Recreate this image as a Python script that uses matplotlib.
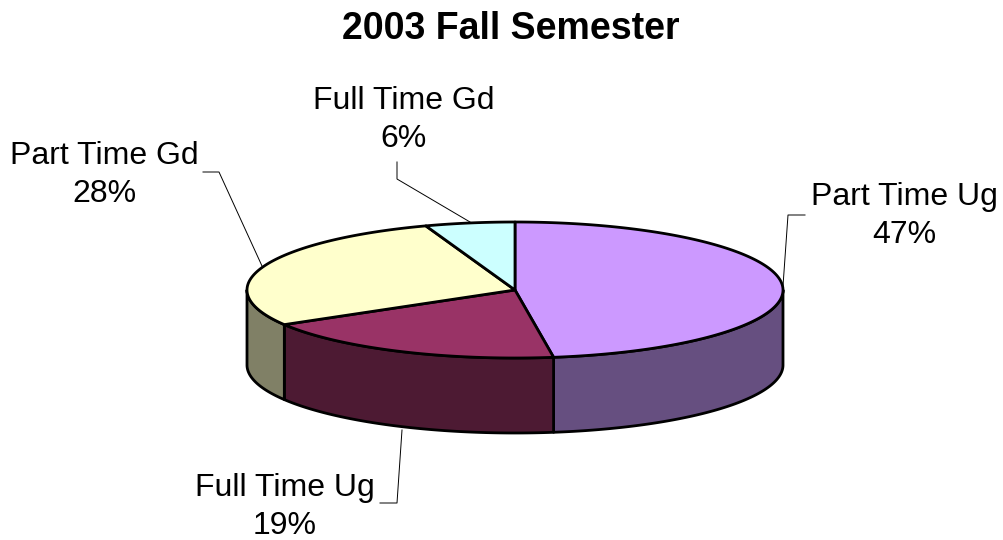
import numpy as np
import matplotlib
matplotlib.use("Agg")
import matplotlib.pyplot as plt
from matplotlib.patches import Polygon

title = "2003 Fall Semester"
categories = ["Part Time Ug", "Full Time Ug", "Part Time Gd", "Full Time Gd"]
values = [47.7, 18.8, 28.1, 5.4]
pct_labels = ["47%", "19%", "28%", "6%"]
top_colors = ["#CC99FF", "#993366", "#FFFFCC", "#CCFFFF"]
side_colors = ["#664F80", "#4D1A33", "#808066", "#668080"]

label_pos = [(904, 216), (285, 507), (104, 175), (404, 120)]
leaders = [
    [(805, 215), (788, 215), (783, 286)],
    [(380, 503), (397, 503), (402, 430)],
    [(203, 172), (219, 172), (262, 266)],
    [(397, 162), (397, 179), (470, 222)],
]

CX, CY, RX, RY, DEPTH = 515, 290, 268, 68, 75
LW = 2.0

plt.rcParams["font.family"] = ["Liberation Sans", "DejaVu Sans"]
fig = plt.figure(figsize=(10.04, 5.40), dpi=100)
ax = fig.add_axes([0, 0, 1, 1])
ax.set_xlim(0, 1004)
ax.set_ylim(540, 0)
ax.axis("off")


def arc(a0, a1, dy=0.0):
    """Points on the rim; angles are clockwise from the top, in degrees."""
    t = np.radians(np.linspace(a0, a1, max(int(abs(a1 - a0) * 2), 2)))
    return np.column_stack([CX + RX * np.sin(t), CY + dy - RY * np.cos(t)])


fracs = np.array(values) / sum(values) * 360
ends = np.cumsum(fracs)
starts = ends - fracs

# Side walls: only the part of each slice on the front half (90..270 degrees)
for a0, a1, c in zip(starts, ends, side_colors):
    lo, hi = max(a0, 90), min(a1, 270)
    if hi <= lo:
        continue
    front = arc(lo, hi)
    back = arc(hi, lo, DEPTH)
    ax.add_patch(Polygon(np.vstack([front, back]), closed=True, facecolor=c,
                         edgecolor="black", lw=LW, joinstyle="round", zorder=2))

# Top faces
for a0, a1, c in zip(starts, ends, top_colors):
    pts = np.vstack([[CX, CY], arc(a0, a1)])
    ax.add_patch(Polygon(pts, closed=True, facecolor=c, edgecolor="black",
                         lw=LW, joinstyle="round", zorder=3))

# Leader lines
for pts in leaders:
    xs, ys = zip(*pts)
    ax.plot(xs, ys, color="black", lw=0.7, zorder=1)

# Labels
for name, pct, (x, y) in zip(categories, pct_labels, label_pos):
    ax.text(x, y, f"{name}\n{pct}", ha="center", va="center", fontsize=23,
            color="black", linespacing=1.38, zorder=4)

ax.text(511, 29, title, ha="center", va="center", fontsize=27,
        fontweight="bold", color="black")

fig.savefig("out.png", dpi=100, facecolor="white")
